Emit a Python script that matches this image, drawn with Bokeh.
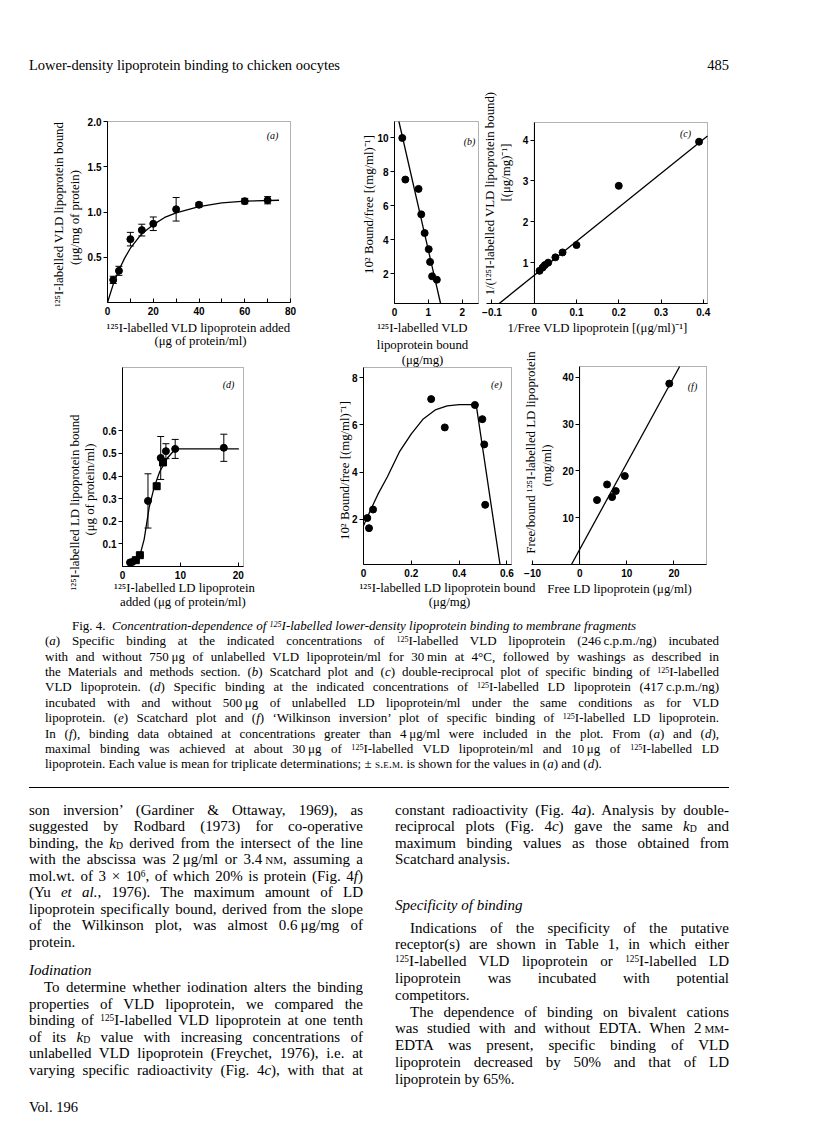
from bokeh.plotting import figure
from bokeh.models import (Label, Whisker, TeeHead, ColumnDataSource, FixedTicker,
                          LinearAxis, BoxAnnotation, Range1d, Div)
from bokeh.layouts import column, row
from bokeh.embed import file_html
from bokeh.resources import INLINE

# ------------------------------------------------------------------ data
# (a) VLD lipoprotein binding
a_added = [2.5, 5, 10, 15, 20, 30, 40, 60, 70]
a_bound = [0.25, 0.35, 0.70, 0.80, 0.87, 1.03, 1.08, 1.12, 1.13]
a_sem = [0.04, 0.05, 0.075, 0.065, 0.075, 0.13, 0.025, 0.03, 0.04]
a_fit_x = [0, 2.5, 5, 7.5, 10, 15, 20, 25, 30, 40, 50, 60, 75]
a_fit_y = [0, 0.2, 0.36, 0.49, 0.6, 0.76, 0.86, 0.94, 0.99, 1.06, 1.10, 1.12, 1.13]
a_xticks = [0, 20, 40, 60, 80]
a_xminor = [10, 30, 50, 70]
a_yticks = [0.5, 1.0, 1.5, 2.0]
a_ylabels = ["0.5", "1.0", "1.5", "2.0"]

# (b) Scatchard VLD
b_bound = [0.23, 0.32, 0.71, 0.79, 0.89, 1.01, 1.05, 1.11, 1.25]
b_ratio = [10.0, 7.55, 7.0, 5.5, 4.4, 3.45, 2.7, 1.85, 1.65]
b_fit_x = [0.13, 1.36]
b_fit_y = [10.97, 0.25]
b_xticks = [0, 1, 2]
b_yticks = [2, 4, 6, 8, 10]

# (c) double reciprocal VLD
c_inv_free = [0.0125, 0.02, 0.025, 0.033, 0.05, 0.067, 0.1, 0.2, 0.39]
c_inv_bound = [0.80, 0.88, 0.94, 1.0, 1.13, 1.25, 1.43, 2.88, 3.96]
c_fit_x = [-0.083, 0.41]
c_fit_y = [0.0, 4.10]
c_xticks = [-0.1, 0, 0.1, 0.2, 0.3, 0.4]
c_xlabels = ["\u22120.1", "0", "0.1", "0.2", "0.3", "0.4"]
c_yticks = [1, 2, 3, 4]

# (d) LD lipoprotein binding
d_added = [1.3, 1.7, 2.3, 3.0, 4.4, 5.9, 6.6, 7.0, 7.5, 9.1, 17.5]
d_bound = [0.018, 0.02, 0.028, 0.05, 0.29, 0.355, 0.48, 0.46, 0.51, 0.52, 0.525]
d_sem = [0.0, 0.0, 0.0, 0.0, 0.12, 0.012, 0.095, 0.012, 0.033, 0.042, 0.06]
d_marker = ["circle", "circle", "square", "square", "circle", "square",
            "circle", "square", "circle", "circle", "circle"]
d_fit_x = [1.2, 1.72, 2.87, 3.74, 4.6, 5.46, 6.44, 7.76, 8.9, 9.8, 20.1]
d_fit_y = [0.0, 0.007, 0.036, 0.12, 0.26, 0.35, 0.42, 0.48, 0.513, 0.52, 0.52]
d_xticks = [0, 10, 20]
d_yticks = [0.1, 0.2, 0.3, 0.4, 0.5, 0.6]

# (e) Scatchard LD
e_bound = [0.016, 0.023, 0.04, 0.283, 0.34, 0.466, 0.497, 0.505, 0.509]
e_ratio = [2.05, 1.62, 2.41, 7.09, 5.89, 6.84, 6.24, 5.17, 2.61]
e_fit_x = [0, 0.03, 0.06, 0.1, 0.15, 0.2, 0.25, 0.3, 0.35, 0.4, 0.45, 0.472, 0.571]
e_fit_y = [1.72, 2.4, 3.05, 3.8, 4.85, 5.62, 6.25, 6.63, 6.8, 6.86, 6.86, 6.8, 0.08]
e_xticks = [0, 0.2, 0.4, 0.6]
e_xlabels = ["0", "0.2", "0.4", "0.6"]
e_yticks = [2, 4, 6, 8]

# (f) Wilkinson plot LD
f_free = [3.67, 5.8, 6.87, 7.65, 9.57, 19.0]
f_ratio = [13.76, 17.1, 14.4, 15.7, 18.9, 38.65]
f_fit_x = [-1.75, 21.2]
f_fit_y = [0.0, 42.3]
f_xticks = [-10, 0, 10, 20]
f_xlabels = ["\u221210", "0", "10", "20"]
f_yticks = [10, 20, 30, 40]

SERIF = "Liberation Serif"
SANS = "Liberation Sans"
LAB = "12.8px"
CANVAS = {}


# ------------------------------------------------------------------ helpers
def blank_fig(canvas):
    left, top, w, h = canvas
    p = figure(width=w, height=h, x_range=Range1d(0, 1), y_range=Range1d(0, 1),
               output_backend="svg", toolbar_location=None,
               x_axis_location=None, y_axis_location=None,
               min_border=0, frame_align=False)
    p.grid.visible = False
    p.outline_line_color = None
    p.background_fill_color = "white"
    p.border_fill_color = "white"
    CANVAS[id(p)] = canvas
    return p


def make_panel(canvas, px_box, data_box, yaxis_at=None, box_left=None):
    """canvas: page rect of the figure; px_box: page pixels (l, t, r, b) of the
    axes extent; data_box: (x0, x1, y0, y1) data values at those pixels."""
    left, top, w, h = canvas
    pl, pt, pr, pbm = px_box
    x0, x1, y0, y1 = data_box
    sx = (x1 - x0) / (pr - pl)
    sy = (y1 - y0) / (pbm - pt)
    p = blank_fig(canvas)
    p.x_range = Range1d(x0 - (pl - left) * sx, x1 + (left + w - pr) * sx)
    p.y_range = Range1d(y0 - (top + h - pbm) * sy, y1 + (pt - top) * sy)
    ya_pos = x0 if yaxis_at is None else yaxis_at
    xa = LinearAxis(fixed_location=y0, bounds=(x0, x1))
    ya = LinearAxis(fixed_location=ya_pos, bounds=(y0, y1))
    p.add_layout(xa, "below")
    p.add_layout(ya, "left")
    bl = x0 if box_left is None else box_left
    p.add_layout(BoxAnnotation(left=bl, right=x1, bottom=y0, top=y1,
                               fill_color=None, fill_alpha=0,
                               line_color="black", line_width=1))
    return p, xa, ya


def style_axis(ax, ticks, labels=None, minor=None, tick_in=0, tick_out=0, standoff=3):
    ax.ticker = FixedTicker(ticks=ticks, minor_ticks=minor or [])
    if labels is None:
        labels = [str(t) for t in ticks]
    ax.major_label_overrides = {t: s for t, s in zip(ticks, labels)}
    ax.major_tick_in = tick_in
    ax.major_tick_out = tick_out
    ax.minor_tick_in = tick_in if minor else 0
    ax.minor_tick_out = 0
    ax.axis_line_color = "black"
    ax.major_tick_line_color = "black"
    ax.minor_tick_line_color = "black"
    ax.major_label_text_font = SANS
    ax.major_label_text_font_size = "10px"
    ax.major_label_text_font_style = "bold"
    ax.major_label_text_color = "black"
    ax.major_label_standoff = standoff
    ax.axis_label = None


def lab(p, px, py, text, size=LAB, angle=0, style="normal", font=SERIF):
    left, top, w, h = CANVAS[id(p)]
    p.add_layout(Label(x=px - left, y=top + h - py, x_units="screen", y_units="screen",
                       text=text, angle=angle, angle_units="deg",
                       text_align="center", text_baseline="middle",
                       text_font=font, text_font_size=size, text_font_style=style,
                       text_color="black"))


def errbars(p, xs, ys, es, size=7):
    src = ColumnDataSource(dict(x=xs, lo=[y - e for y, e in zip(ys, es)],
                                hi=[y + e for y, e in zip(ys, es)]))
    p.add_layout(Whisker(base="x", lower="lo", upper="hi", source=src,
                         line_color="black", line_width=1,
                         upper_head=TeeHead(size=size, line_color="black", line_width=1),
                         lower_head=TeeHead(size=size, line_color="black", line_width=1)))


# ------------------------------------------------------------------ (a)
pa, xa, ya = make_panel((8, 72, 327, 283), (115, 119, 298, 300), (0, 80, 0, 2.0))
style_axis(xa, a_xticks, minor=a_xminor, tick_in=4, standoff=4)
style_axis(ya, a_yticks, a_ylabels, tick_out=4, standoff=2)
pa.line(a_fit_x, a_fit_y, line_color="black", line_width=1.3)
errbars(pa, a_added, a_bound, a_sem)
pa.scatter(a_added, a_bound, size=7, color="black")
lab(pa, 66, 212, "\u00b9\u00b2\u2075I-labelled VLD lipoprotein bound", angle=90)
lab(pa, 82, 215, "(\u03bcg/mg of protein)", angle=90)
lab(pa, 206, 325, "\u00b9\u00b2\u2075I-labelled VLD lipoprotein added")
lab(pa, 208, 338, "(\u03bcg of protein/ml)")
lab(pa, 280, 133, "(a)", size="10px", style="italic")

# ------------------------------------------------------------------ (b)
pb, xa, ya = make_panel((335, 72, 153, 262), (402, 119, 486, 301), (0, 2.48, 0.25, 10.97))
style_axis(xa, b_xticks, tick_in=4, standoff=4)
style_axis(ya, b_yticks, tick_out=4, standoff=2)
pb.line(b_fit_x, b_fit_y, line_color="black", line_width=1.3)
pb.scatter(b_bound, b_ratio, size=7, color="black")
lab(pb, 376, 202, "10\u00b2 Bound/free [(mg/ml)\u207b\u00b9]", angle=90)
lab(pb, 430, 325, "\u00b9\u00b2\u2075I-labelled VLD")
lab(pb, 477, 139, "(b)", size="10px", style="italic")

# ------------------------------------------------------------------ (c)
pc, xa, ya = make_panel((488, 72, 320, 262), (494, 120, 715, 301), (-0.113, 0.41, 0, 4.43),
                        yaxis_at=0, box_left=0)
style_axis(xa, c_xticks, c_xlabels, tick_in=4, standoff=4)
style_axis(ya, c_yticks, tick_out=4, standoff=2)
pc.line(c_fit_x, c_fit_y, line_color="black", line_width=1.3)
pc.scatter(c_inv_free, c_inv_bound, size=7, color="black")
lab(pc, 497, 191, "1/(\u00b9\u00b2\u2075I-labelled VLD lipoprotein bound)", angle=90)
lab(pc, 513, 170, "[(\u03bcg/mg)\u207b\u00b9]", angle=90)
lab(pc, 605, 325, "1/Free VLD lipoprotein [(\u03bcg/ml)\u207b\u00b9]")
lab(pc, 693, 131, "(c)", size="10px", style="italic")

# ------------------------------------------------------------------ (d)
pd_, xa, ya = make_panel((8, 355, 327, 257), (130, 365, 251, 564), (0, 20.9, 0, 0.88))
style_axis(xa, d_xticks, tick_in=4, standoff=4)
style_axis(ya, d_yticks, tick_out=4, standoff=2)
pd_.line(d_fit_x, d_fit_y, line_color="black", line_width=1.3)
errbars(pd_, d_added, d_bound, d_sem)
pd_.scatter(x="x", y="y", marker="m", size=7, color="black",
            source=ColumnDataSource(dict(x=d_added, y=d_bound, m=d_marker)))
lab(pd_, 82, 500, "\u00b9\u00b2\u2075I-labelled LD lipoprotein bound", angle=90)
lab(pd_, 97, 487, "(\u03bcg of protein/ml)", angle=90)
lab(pd_, 192, 585, "\u00b9\u00b2\u2075I-labelled LD lipoprotein")
lab(pd_, 192, 599, "added  (\u03bcg of protein/ml)")
lab(pd_, 236, 382, "(d)", size="10px", style="italic")

# ------------------------------------------------------------------ (e)
pe, xa, ya = make_panel((335, 334, 190, 242), (371, 365, 519, 562), (0, 0.619, 0.08, 8.43))
style_axis(xa, e_xticks, e_xlabels, tick_in=4, standoff=4)
style_axis(ya, e_yticks, tick_out=4, standoff=2)
pe.line(e_fit_x, e_fit_y, line_color="black", line_width=1.3)
pe.scatter(e_bound, e_ratio, size=7, color="black")
lab(pe, 352, 468, "10\u00b2 Bound/free [(mg/ml)\u207b\u00b9]", angle=90)
lab(pe, 504, 382, "(e)", size="10px", style="italic")
# continuation of the x-axis title of panel (b)
lab(pe, 430, 342, "lipoprotein bound")
lab(pe, 430, 357, "(\u03bcg/mg)")

# ------------------------------------------------------------------ (f)
pf, xa, ya = make_panel((525, 334, 283, 242), (539, 364, 714, 562), (-10.23, 26.9, 0, 42.3),
                        yaxis_at=0, box_left=0)
style_axis(xa, f_xticks, f_xlabels, tick_in=4, standoff=4)
style_axis(ya, f_yticks, tick_out=4, standoff=2)
pf.line(f_fit_x, f_fit_y, line_color="black", line_width=1.3)
pf.scatter(f_free, f_ratio, size=7, color="black")
lab(pf, 538, 450, "Free/bound \u00b9\u00b2\u2075I-labelled LD lipoprotein", angle=90)
lab(pf, 554, 463, "(mg/ml)", angle=90)
lab(pf, 700, 384, "(f)", size="10px", style="italic")

# ------------------------------------------------------------------ x titles of (e) and (f)
ps = blank_fig((335, 576, 473, 36))
lab(ps, 455, 585, "\u00b9\u00b2\u2075I-labelled LD lipoprotein bound")
lab(ps, 457, 599, "(\u03bcg/mg)")
lab(ps, 627, 586, "Free LD lipoprotein (\u03bcg/ml)")

# ------------------------------------------------------------------ text
SUP = '<span style="font-size:0.62em;vertical-align:0.38em;line-height:0">'
SUB = '<span style="font-size:0.65em;vertical-align:-0.12em;line-height:0">'
SC = '<span style="font-variant:small-caps">'
E = '</span>'
I125 = SUP + '125' + E + 'I'
KD = '<i>k</i>' + SUB + 'D' + E
TS = '&#8201;'

LX, LW = 32, 334
RX, RW = 398, 334
CAP_X, CAP_W = 48, 674

header_html = (
    '<div style="position:relative;width:800px;height:64px;font-family:\'Liberation Serif\',serif;color:#000">'
    f'<div style="position:absolute;left:{LX - 8}px;top:52px;font-size:14.5px;line-height:16px;white-space:nowrap">'
    'Lower-density lipoprotein binding to chicken oocytes</div>'
    f'<div style="position:absolute;left:0px;top:52px;width:{RX + RW - 8}px;text-align:right;font-size:14.5px;line-height:16px">485</div>'
    '</div>')

TEXT_TOP = 612


def ln(x, yc, w, html, size, lh, mode="justify"):
    top = yc - TEXT_TOP - lh / 2
    return (f'<div style="position:absolute;left:{x - 8:.1f}px;top:{top:.1f}px;width:{w}px;'
            f'font-size:{size}px;line-height:{lh}px;text-align:{mode};text-align-last:{mode};'
            f'white-space:nowrap">{html}</div>')


caption_lines = [
    'Fig. 4.&nbsp; <i>Concentration-dependence of ' + SUP + '125' + E + 'I-labelled lower-density lipoprotein binding to membrane fragments</i>',
    '(<i>a</i>) Specific binding at the indicated concentrations of ' + I125 + '-labelled VLD lipoprotein (246' + TS + 'c.p.m./ng) incubated',
    'with and without 750' + TS + '\u03bcg of unlabelled VLD lipoprotein/ml for 30' + TS + 'min at 4\u00b0C, followed by washings as described in',
    'the Materials and methods section. (<i>b</i>) Scatchard plot and (<i>c</i>) double-reciprocal plot of specific binding of ' + I125 + '-labelled',
    'VLD lipoprotein. (<i>d</i>) Specific binding at the indicated concentrations of ' + I125 + '-labelled LD lipoprotein (417' + TS + 'c.p.m./ng)',
    'incubated with and without 500' + TS + '\u03bcg of unlabelled LD lipoprotein/ml under the same conditions as for VLD',
    'lipoprotein. (<i>e</i>) Scatchard plot and (<i>f</i>) \u2018Wilkinson inversion\u2019 plot of specific binding of ' + I125 + '-labelled LD lipoprotein.',
    'In (<i>f</i>), binding data obtained at concentrations greater than 4' + TS + '\u03bcg/ml were included in the plot. From (<i>a</i>) and (<i>d</i>),',
    'maximal binding was achieved at about 30' + TS + '\u03bcg of ' + I125 + '-labelled VLD lipoprotein/ml and 10' + TS + '\u03bcg of ' + I125 + '-labelled LD',
    'lipoprotein. Each value is mean for triplicate determinations; \u00b1 ' + SC + 's.e.m.' + E + ' is shown for the values in (<i>a</i>) and (<i>d</i>).',
]

left_lines = [
    ('son inversion\u2019 (Gardiner &amp; Ottaway, 1969), as', 'j'),
    ('suggested by Rodbard (1973) for co-operative', 'j'),
    ('binding, the ' + KD + ' derived from the intersect of the line', 'j'),
    ('with the abscissa was 2' + TS + '\u03bcg/ml or 3.4' + TS + SC + 'nm' + E + ', assuming a', 'j'),
    ('mol.wt. of 3 \u00d7 10' + SUP + '6' + E + ', of which 20% is protein (Fig. 4<i>f</i>)', 'j'),
    ('(Yu <i>et al.</i>, 1976). The maximum amount of LD', 'j'),
    ('lipoprotein specifically bound, derived from the slope', 'j'),
    ('of the Wilkinson plot, was almost 0.6' + TS + '\u03bcg/mg of', 'j'),
    ('protein.', 'l'),
]
left_head = '<i>Iodination</i>'
left_lines2 = [
    ('To determine whether iodination alters the binding', 'i'),
    ('properties of VLD lipoprotein, we compared the', 'j'),
    ('binding of ' + I125 + '-labelled VLD lipoprotein at one tenth', 'j'),
    ('of its ' + KD + ' value with increasing concentrations of', 'j'),
    ('unlabelled VLD lipoprotein (Freychet, 1976), i.e. at', 'j'),
    ('varying specific radioactivity (Fig. 4<i>c</i>), with that at', 'j'),
]
right_lines = [
    ('constant radioactivity (Fig. 4<i>a</i>). Analysis by double-', 'j'),
    ('reciprocal plots (Fig. 4<i>c</i>) gave the same ' + KD + ' and', 'j'),
    ('maximum binding values as those obtained from', 'j'),
    ('Scatchard analysis.', 'l'),
]
right_head = '<i>Specificity of binding</i>'
right_lines2 = [
    ('Indications of the specificity of the putative', 'i'),
    ('receptor(s) are shown in Table 1, in which either', 'j'),
    (I125 + '-labelled VLD lipoprotein or ' + I125 + '-labelled LD', 'j'),
    ('lipoprotein was incubated with potential', 'j'),
    ('competitors.', 'l'),
    ('The dependence of binding on bivalent cations', 'i'),
    ('was studied with and without EDTA. When 2' + TS + SC + 'mm' + E + '-', 'j'),
    ('EDTA was present, specific binding of VLD', 'j'),
    ('lipoprotein decreased by 50% and that of LD', 'j'),
    ('lipoprotein by 65%.', 'l'),
]

parts = []
for i, html in enumerate(caption_lines):
    yc = 618.3 + 15.4 * i
    if i == 0:
        parts.append(ln(75, yc, 660, html, 13, 15, "left"))
    else:
        parts.append(ln(CAP_X, yc, CAP_W, html, 13, 15,
                        "left" if i == len(caption_lines) - 1 else "justify"))
parts.append(f'<div style="position:absolute;left:{LX - 8}px;top:{780 - TEXT_TOP}px;width:{RX + RW - LX}px;'
             f'border-top:1.5px solid #000"></div>')

BODY_FS = 15


def body(col_x, col_w, y0, step, lines):
    for k, (html, kind) in enumerate(lines):
        yc = y0 + step * k
        if kind == 'i':
            parts.append(ln(col_x + 15, yc, col_w - 15, html, BODY_FS, 16))
        elif kind == 'l':
            parts.append(ln(col_x, yc, col_w, html, BODY_FS, 16, "left"))
        else:
            parts.append(ln(col_x, yc, col_w, html, BODY_FS, 16))


body(LX, LW, 802.5, 16.5, left_lines)
parts.append(ln(LX, 963, LW, left_head, BODY_FS, 16, "left"))
body(LX, LW, 980, 16.6, left_lines2)
body(RX, RW, 802.5, 16.5, right_lines)
parts.append(ln(RX, 898, RW, right_head, BODY_FS, 16, "left"))
body(RX, RW, 920.5, 16.8, right_lines2)
parts.append(ln(LX, 1100, 200, 'Vol. 196', 14.5, 16, "left"))

text_html = ('<div style="position:relative;width:800px;height:516px;'
             'font-family:\'Liberation Serif\',serif;color:#000">' + ''.join(parts) + '</div>')

header = Div(text=header_html, width=800, height=64)
text_div = Div(text=text_html, width=800, height=516)

plots = row(column(pa, pd_, spacing=0),
            column(row(pb, pc, spacing=0), row(pe, pf, spacing=0), ps, spacing=0),
            spacing=0)
root = column(header, plots, text_div, spacing=0)

open("out.html", "w").write(file_html(root, INLINE, title="Fig. 4"))
